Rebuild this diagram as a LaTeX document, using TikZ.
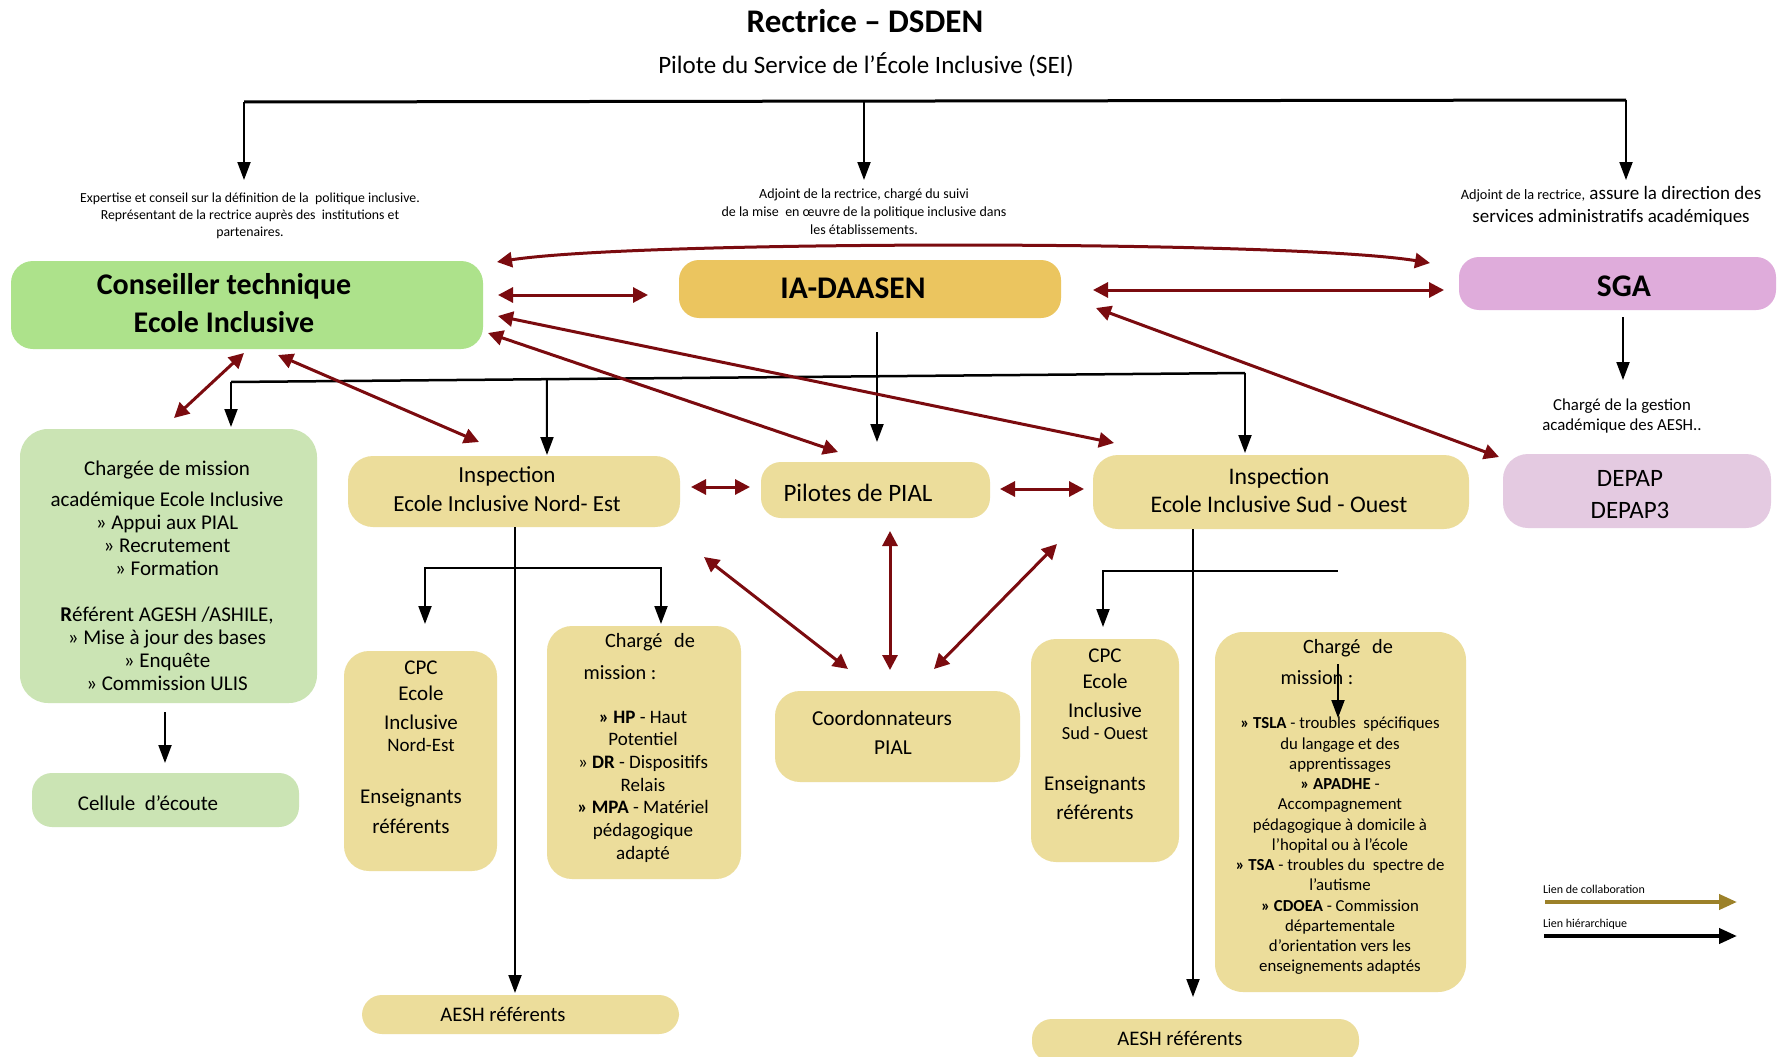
\documentclass[tikz,border=0pt]{standalone}
\usepackage{fontspec}
\setmainfont{Carlito}
\usetikzlibrary{arrows.meta,calc}
\definecolor{ctgreen}{HTML}{ADE28B}
\definecolor{lgreen}{HTML}{CBE4B4}
\definecolor{goldbox}{HTML}{EBC55F}
\definecolor{sand}{HTML}{ECDD9B}
\definecolor{lilac}{HTML}{DFACDB}
\definecolor{lpink}{HTML}{E4CAE1}
\definecolor{maroon}{HTML}{7B0B0F}
\definecolor{olivel}{HTML}{9C8129}
\newcommand{\fsz}[2]{\fontsize{#1}{#2}\selectfont}
\begin{document}
\begin{tikzpicture}[x=1pt,y=-1pt,
 box/.style={rounded corners=20pt, inner sep=0pt, outer sep=0pt, draw=none},
 txt/.style={inner sep=0pt, outer sep=0pt, align=center, text=black},
 coll/.style={draw=maroon, line width=3pt, {Triangle[length=15pt,width=15pt]}-{Triangle[length=15pt,width=15pt]}},
 hier/.style={draw=black, line width=2pt, -{Triangle[length=18pt,width=13pt]}},
 hierboth/.style={draw=black, line width=2pt, {Triangle[length=18pt,width=13pt]}-{Triangle[length=18pt,width=13pt]}},
 hierstart/.style={draw=black, line width=2pt, {Triangle[length=18pt,width=13pt]}-},
]
\fill[white] (0,0) rectangle (1783,1057);
\useasboundingbox (0,0) rectangle (1783,1057);

% ---------- boxes ----------
\node[box, fill=ctgreen, minimum width=472pt, minimum height=88pt, rounded corners=22pt] (ct) at (247,305) {};
\node[box, fill=goldbox, minimum width=382pt, minimum height=58pt] (ia) at (870,289) {};
\node[box, fill=lilac, minimum width=317pt, minimum height=53pt] (sga) at (1617.5,283.5) {};
\node[box, fill=lgreen, minimum width=297pt, minimum height=274pt, rounded corners=28pt] (cm) at (168.5,566) {};
\node[box, fill=lgreen, minimum width=267pt, minimum height=54pt] (cel) at (165.5,800) {};
\node[box, fill=sand, minimum width=332pt, minimum height=71pt, rounded corners=25pt] (ine) at (514,491.5) {};
\node[box, fill=sand, minimum width=229pt, minimum height=56pt] (pil) at (875.5,490) {};
\node[box, fill=sand, minimum width=376pt, minimum height=74pt, rounded corners=25pt] (iso) at (1281,492) {};
\node[box, fill=lpink, minimum width=268pt, minimum height=74pt, rounded corners=25pt] (dep) at (1637,491) {};
\node[box, fill=sand, minimum width=153pt, minimum height=220pt, rounded corners=25pt] (cpcne) at (420.5,761) {};
\node[box, fill=sand, minimum width=194pt, minimum height=253pt, rounded corners=25pt] (cmne) at (644,752.5) {};
\node[box, fill=sand, minimum width=245pt, minimum height=91pt, rounded corners=25pt] (coord) at (897.5,736.5) {};
\node[box, fill=sand, minimum width=148pt, minimum height=223pt, rounded corners=25pt] (cpcso) at (1105,750.5) {};
\node[box, fill=sand, minimum width=251pt, minimum height=360pt, rounded corners=28pt] (cmso) at (1340.5,812) {};
\node[box, fill=sand, minimum width=317pt, minimum height=39pt] (aeshne) at (520.5,1014.5) {};
\node[box, fill=sand, minimum width=327pt, minimum height=43pt] (aeshso) at (1195.5,1040.5) {};

% ---------- texts ----------
\node[txt, font=\fsz{33}{38}\bfseries] (title) at (865,21) {Rectrice – DSDEN};
\node[txt, font=\fsz{25}{29}] (subtitle) at (866,65) {Pilote du Service de l’École Inclusive (SEI)};
\node[txt, font=\fsz{13.8}{17}] (exp) at (250,216) {Expertise et conseil sur la définition de la\ \ politique inclusive.\\Représentant de la rectrice auprès des\ \ institutions et\\partenaires.};
\node[txt, font=\fsz{14}{18}] (adj) at (864,212) {Adjoint de la rectrice, chargé du suivi\\de la mise\ \ en œuvre de la politique inclusive dans\\les établissements.};
\node[txt, font=\fsz{19}{23}] (adj2) at (1611,206) {{\fsz{14.3}{23}Adjoint de la rectrice,} assure la direction des\\services administratifs académiques};
\node[txt, font=\fsz{30}{38}\bfseries] (ctt) at (224,303.5) {Conseiller technique\\Ecole Inclusive};
\node[txt, font=\fsz{31.5}{36}\bfseries] (iat) at (853,288) {IA-DAASEN};
\node[txt, font=\fsz{31.5}{36}\bfseries] (sgat) at (1624,286) {SGA};
\node[txt, font=\fsz{21}{23}] (cmt) at (167,576) {Chargée de mission\\[8pt]académique Ecole Inclusive\\» Appui aux PIAL\\» Recrutement\\» Formation\\[23pt]\textbf{R}éférent AGESH /ASHILE,\\» Mise à jour des bases\\» Enquête\\» Commission ULIS};
\node[txt, font=\fsz{21}{23}] (celt) at (148,803) {Cellule\ \ d’écoute};
\node[txt, font=\fsz{23}{29}] (inet) at (507,489) {Inspection\\Ecole Inclusive Nord- Est};
\node[txt, font=\fsz{25}{28}] (pilt) at (858,493) {Pilotes de PIAL};
\node[txt, font=\fsz{23.8}{28}] (isot) at (1279,490.5) {Inspection\\Ecole Inclusive Sud - Ouest};
\node[txt, font=\fsz{25}{32}] (dept) at (1630,494.5) {DEPAP\\DEPAP3};
\node[txt, font=\fsz{16.8}{20}] (sgan) at (1622,416.5) {Chargé de la gestion\\académique des AESH..};
\node[txt, font=\fsz{21}{26}] (cpcnea) at (421,706.5) {CPC\\Ecole\\[3pt]Inclusive\\[-4pt]{\fsz{19}{26}Nord-Est}};
\node[txt, font=\fsz{21}{30}] (cpcneb) at (411,811.5) {Enseignants\\référents};
\node[txt, font=\fsz{20.3}{23}] (cmnea) at (650,642) {Chargé\hspace{0.35em} de};
\node[txt, font=\fsz{20.3}{23}] (cmneb) at (620,673) {mission :};
\node[txt, font=\fsz{19}{22.7}] (cmnec) at (643,786.5) {\textbf{» HP} - Haut\\Potentiel\\» \textbf{DR} - Dispositifs\\Relais\\\textbf{» MPA} - Matériel\\pédagogique\\adapté};
\node[txt, font=\fsz{21.3}{23}] (coorda) at (882,718) {Coordonnateurs};
\node[txt, font=\fsz{21.3}{23}] (coordb) at (893,748) {PIAL};
\node[txt, font=\fsz{21}{26}] (cpcsoa) at (1105,694.5) {CPC\\Ecole\\[3pt]Inclusive\\[-4pt]{\fsz{18.5}{26}Sud - Ouest}};
\node[txt, font=\fsz{21}{29}] (cpcsob) at (1095,798) {Enseignants\\référents};
\node[txt, font=\fsz{20.3}{23}] (cmsoa) at (1348,648) {Chargé\hspace{0.35em} de};
\node[txt, font=\fsz{20.3}{23}] (cmsob) at (1317,678) {mission :};
\node[txt, font=\fsz{16.8}{20.25}] (cmsoc) at (1340,846) {\textbf{» TSLA} - troubles\ \ spécifiques\\du langage et des\\apprentissages\\\textbf{» APADHE} -\\Accompagnement\\pédagogique à domicile à\\l’hopital ou à l’école\\\textbf{» TSA} - troubles du\ \ spectre de\\l’autisme\\\textbf{» CDOEA} - Commission\\départementale\\d’orientation vers les\\enseignements adaptés};
\node[txt, font=\fsz{20.7}{22}] (aeshnet) at (503,1014) {AESH référents};
\node[txt, font=\fsz{20.7}{22}] (aeshsot) at (1180,1038) {AESH référents};
\node[txt, anchor=west, font=\fsz{12}{13}] (leg1) at (1543,889) {Lien de collaboration};
\node[txt, anchor=west, font=\fsz{12}{13}] (leg2) at (1543,924) {Lien hiérarchique};

% ---------- hierarchical (black) ----------
\coordinate (tl) at (244,102);
\coordinate (tm) at (864,101);
\coordinate (tr) at (1626,100);
\coordinate (tlend) at (244,180);
\coordinate (tmend) at (864,180);
\coordinate (trend) at (1626,180);
\draw[line width=3pt] (tl) -- (tr);
\draw[hier] (tl) -- (tlend);
\draw[hier] (tm) -- (tmend);
\draw[hier] (tr) -- (trend);

\coordinate (hl) at (231,382);
\coordinate (hr) at (1245,373);
\draw[line width=2.5pt] (hl) -- (hr);
\draw[hier] (hl) -- ($(cm.north)+(62.5,-2)$);
\draw[hier] ($(hl)!0.3116!(hr)$) -- ($(ine.north)+(33,-1)$);
\draw[hier] (hr) -- ($(iso.north)+(-36,-2)$);
\draw[hier] ($(ia.south)+(7,14)$) -- ($(pil.north)+(1.5,-20)$);
\draw[hier] ($(sga.south)+(5.5,7)$) -- ($(sga.south)+(5.5,70)$);
\draw[hier] ($(cm.south)+(-3.5,9)$) -- ($(cel.north)+(-0.5,-10)$);
\draw[hier] ($(ine.south)+(1,0)$) -- ($(aeshne.north)+(-5.5,-2)$);
\draw[hierboth] ($(cpcne.north)+(4.5,-27)$) |- ($(cmne.north)+(17,-58)$) -- ($(cmne.north)+(17,-2)$);
\draw[hier] ($(iso.south)+(-88,0)$) -- ($(aeshso.north)+(-2.5,-22)$);
\draw[hierstart] ($(cpcso.north)+(-2,-12)$) |- ($(cmso.north)+(-2.5,-61)$);
\draw[hier] ($(cmso.north)+(-2.5,32)$) -- ($(cmso.north)+(-2.5,86)$);

% ---------- collaboration (maroon) ----------
\draw[coll] ($(ct.north east)+(14,1)$) .. controls (640,240) and (1290,240) .. ($(sga.north west)+(-29,6)$);
\draw[coll] ($(ct.east)+(15,-10)$) -- ($(ia.west)+(-31,6)$);
\draw[coll] ($(ia.east)+(32,1)$) -- ($(sga.west)+(-15,6.5)$);
\draw[coll] ($(ct.east)+(15,11)$) -- ($(iso.north west)+(21,-12)$);
\draw[coll] ($(ct.south east)+(5,-16)$) -- ($(pil.north west)+(77,-10)$);
\draw[coll] ($(ct.south)+(-3,4)$) -- ($(cm.north)+(5.5,-11)$);
\draw[coll] ($(ct.south)+(31,6)$) -- ($(ine.north)+(-35,-14)$);
\draw[coll] ($(ia.east)+(35,19)$) -- ($(dep.north west)+(-4,3)$);
\draw[coll] ($(ine.east)+(11,-4.5)$) -- ($(pil.west)+(-11,-3)$);
\draw[coll] ($(pil.east)+(10,-1)$) -- ($(iso.west)+(-9,-3)$);
\draw[coll] ($(pil.south)+(14.5,13)$) -- ($(coord.north)+(-7.5,-21)$);
\draw[coll] ($(ine.south east)+(24,30)$) -- ($(coord.north)+(-49.5,-22)$);
\draw[coll] ($(iso.south west)+(-36,15)$) -- ($(coord.north)+(36.5,-22)$);

% ---------- legend ----------
\coordinate (lg1a) at (1545,902);
\coordinate (lg1b) at (1737,902);
\coordinate (lg2a) at (1544,936);
\coordinate (lg2b) at (1737,936);
\draw[draw=olivel, line width=4pt, -{Triangle[length=18pt,width=15pt]}] (lg1a) -- (lg1b);
\draw[draw=black, line width=4pt, -{Triangle[length=18pt,width=15pt]}] (lg2a) -- (lg2b);
\end{tikzpicture}
\end{document}
